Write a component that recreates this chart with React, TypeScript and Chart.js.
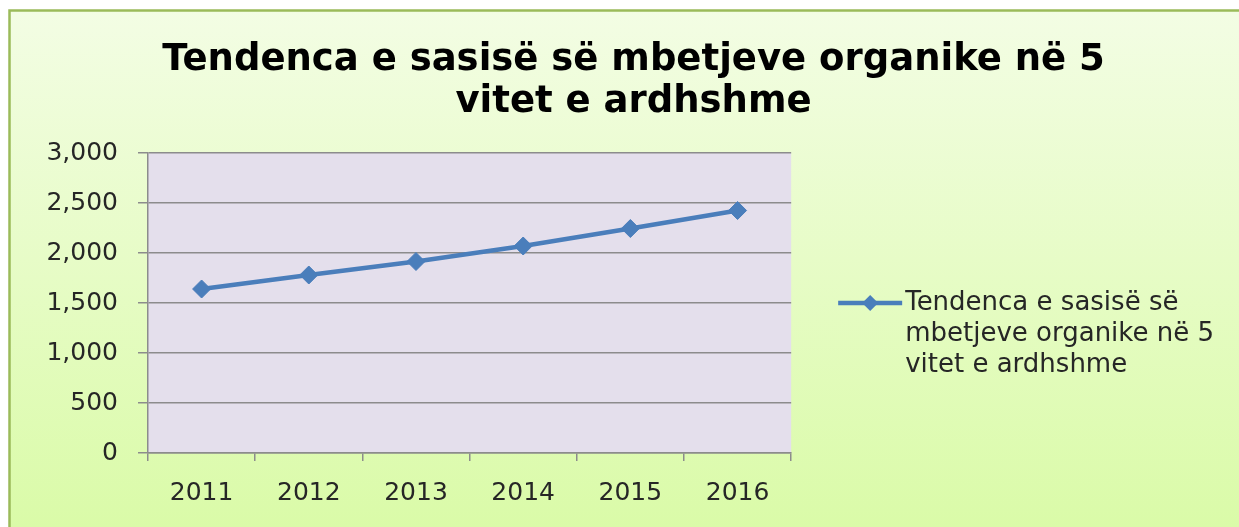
import React, { useEffect, useRef } from 'react';
import { Chart, registerables } from 'chart.js';

Chart.register(...registerables);

// ---- data ----
const TITLE_LINES = ['Tendenca e sasisë së mbetjeve organike në 5', 'vitet e ardhshme'];
const YEARS = ['2011', '2012', '2013', '2014', '2015', '2016'];
const VALUES = [1640, 1780, 1915, 2070, 2245, 2425];
const SERIES_LABEL_LINES = ['Tendenca e sasisë së', 'mbetjeve organike në 5', 'vitet e ardhshme'];
const Y_MIN = 0;
const Y_MAX = 3000;
const Y_STEP = 500;

// ---- styles ----
const LINE_COLOR = '#4a7ebb';
const PLOT_BG = '#e4dfec';
const GRID_COLOR = '#8c8c8c';
const TEXT_COLOR = '#262626';
const FONT = 'DejaVu Sans';

const frameBackground = {
  id: 'frameBackground',
  beforeDraw(chart: any) {
    const { ctx, width, height, chartArea } = chart;
    ctx.save();
    ctx.fillStyle = '#ffffff';
    ctx.fillRect(0, 0, width, height);
    const g = ctx.createLinearGradient(0, 10, 0, height);
    g.addColorStop(0, '#f3fde4');
    g.addColorStop(1, '#dafba8');
    ctx.fillStyle = g;
    ctx.fillRect(9, 10, width - 9, height - 10);
    ctx.strokeStyle = '#9bbb59';
    ctx.lineWidth = 2.5;
    ctx.beginPath();
    ctx.moveTo(9.5, height + 5);
    ctx.lineTo(9.5, 10.5);
    ctx.lineTo(width + 5, 10.5);
    ctx.stroke();
    ctx.fillStyle = PLOT_BG;
    ctx.fillRect(chartArea.left, chartArea.top, chartArea.right - chartArea.left, chartArea.bottom - chartArea.top);
    ctx.restore();
  },
};

const legendMarker = {
  id: 'legendMarker',
  afterDraw(chart: any) {
    const legend = chart.legend;
    const hb = legend && legend.legendHitBoxes && legend.legendHitBoxes[0];
    if (!hb) return;
    const { ctx } = chart;
    const fontSize = legend.options.labels.font.size;
    const y = hb.top + fontSize / 2;
    const x0 = hb.left;
    const x1 = hb.left + 64;
    const cx = (x0 + x1) / 2;
    ctx.save();
    ctx.strokeStyle = LINE_COLOR;
    ctx.lineWidth = 4.5;
    ctx.beginPath();
    ctx.moveTo(x0, y);
    ctx.lineTo(x1, y);
    ctx.stroke();
    const r = 8;
    ctx.fillStyle = LINE_COLOR;
    ctx.beginPath();
    ctx.moveTo(cx, y - r);
    ctx.lineTo(cx + r, y);
    ctx.lineTo(cx, y + r);
    ctx.lineTo(cx - r, y);
    ctx.closePath();
    ctx.fill();
    ctx.restore();
  },
};

export default function App() {
  const canvasRef = useRef<HTMLCanvasElement | null>(null);

  useEffect(() => {
    if (!canvasRef.current) return;
    Chart.defaults.font.family = FONT;
    const chart = new Chart(canvasRef.current, {
      type: 'line',
      data: {
        labels: YEARS,
        datasets: [
          {
            label: SERIES_LABEL_LINES.join(' '),
            data: VALUES,
            borderColor: LINE_COLOR,
            backgroundColor: LINE_COLOR,
            borderWidth: 4.5,
            tension: 0,
            pointStyle: 'rectRot',
            pointRadius: 9,
            pointBackgroundColor: LINE_COLOR,
            pointBorderColor: LINE_COLOR,
            pointBorderWidth: 1,
          },
        ],
      },
      options: {
        responsive: false,
        animation: false,
        layout: { padding: { top: 10, left: 43, right: 15, bottom: 0 } },
        plugins: {
          tooltip: { enabled: false },
          title: {
            display: true,
            text: TITLE_LINES,
            color: '#000000',
            font: { family: FONT, size: 37, weight: 'bold', lineHeight: 42 / 37 },
            padding: { top: 29, bottom: 30 },
          },
          legend: {
            display: true,
            position: 'right',
            align: 'start',
            maxWidth: 448,
            title: {
              display: true,
              text: ' ',
              padding: { top: 221, bottom: 0 },
              font: { size: 12, lineHeight: 1 },
            },
            labels: {
              padding: 47,
              boxWidth: 54,
              boxHeight: 10,
              color: TEXT_COLOR,
              font: { family: FONT, size: 26, lineHeight: 31 / 26 },
              generateLabels: () => [
                {
                  text: SERIES_LABEL_LINES as any,
                  fillStyle: 'rgba(0,0,0,0)',
                  strokeStyle: 'rgba(0,0,0,0)',
                  lineWidth: 0,
                  hidden: false,
                  datasetIndex: 0,
                  fontColor: TEXT_COLOR,
                } as any,
              ],
            },
          },
        },
        scales: {
          x: {
            offset: true,
            afterFit: (scale: any) => {
              scale.height = 74;
            },
            grid: {
              offset: true,
              drawOnChartArea: false,
              drawTicks: true,
              tickLength: 8,
              color: GRID_COLOR,
              lineWidth: 1.5,
            },
            border: { color: GRID_COLOR, width: 1.5 },
            ticks: {
              color: TEXT_COLOR,
              padding: 17,
              font: { family: FONT, size: 25 },
              maxRotation: 0,
            },
          },
          y: {
            min: Y_MIN,
            max: Y_MAX,
            afterFit: (scale: any) => {
              scale.width = 105;
            },
            grid: {
              color: GRID_COLOR,
              lineWidth: 1.5,
              drawTicks: true,
              tickLength: 10,
            },
            border: { color: GRID_COLOR, width: 1.5 },
            ticks: {
              stepSize: Y_STEP,
              color: TEXT_COLOR,
              padding: 20,
              font: { family: FONT, size: 25 },
            },
          },
        },
      },
      plugins: [frameBackground, legendMarker],
    });
    return () => chart.destroy();
  }, []);

  return (
    <div style={{ position: 'absolute', left: 0, top: 0, width: 1239, height: 527 }}>
      <canvas ref={canvasRef} width={1239} height={527} style={{ display: 'block' }} />
    </div>
  );
}
